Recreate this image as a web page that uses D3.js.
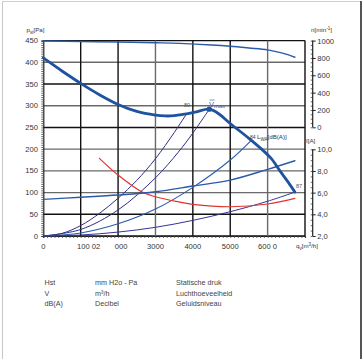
<!DOCTYPE html>
<html><head><meta charset="utf-8">
<script src="https://cdn.jsdelivr.net/npm/d3@7"></script>
<style>
html,body{margin:0;padding:0;background:#fff;}
svg{display:block;}
text{font-family:"Liberation Sans",Arial,sans-serif;}
</style></head>
<body>
<script>
// ---------- data ----------
const xTicks = [0,1000,2000,3000,4000,5000,6000];
const xTickLabels = ["0","100 02","000","3000","4000","5000","600 0"];
const yTicks = [0,50,100,150,200,250,300,350,400,450];
const rpmTicks = [0,200,400,600,800,1000];
const ampTicks = [2,4,6,8,10];
const ampTickLabels = ["2,0","4,0","6,0","8,0","10,0"];

// fan curve: static pressure (Pa) vs flow (m3/h)
const fanQ  = [0,500,1000,1500,2000,2500,3000,3250,3500,3830,4100,4440,4700,5000,5500,5840,6100,6330,6550,6730];
const fanPa = [410,380,351.5,325.5,303,287,278.5,276.5,277,281,286,292,281,259,225,200,178,150,124,101];
// speed (rpm)
const rpmQ  = [0,1000,2000,3000,3650,4500,5000,5500,6000,6400,6730];
const rpm   = [995,990,983,975,968,950,935,915,893,855,808];
// current (A)
const ampQ  = [0,1000,2000,3000,4000,5000,6000,6730];
const amp   = [5.38,5.57,5.78,6.08,6.61,7.16,8.15,8.94];
// red curve (read against current axis)
const redQ  = [1500,2000,2630,3000,3650,4000,5000,6000,6730];
const redV  = [9.16,7.62,6.08,5.62,5.13,4.92,4.70,4.95,5.47];
// system curves (Pa) ending at sound-level points
const sysA_Q  = [0,500,1000,1500,2000,2500,3000,3500,3830];
const sysA_Pa = [0,6,24,52,87,128,178,238,281];
const sysB_Q  = [0,1000,2000,3000,3610,4000,4440];
const sysB_Pa = [0,15,60,134,193,237,292];
const sysC_Q  = [0,1000,2000,3000,4000,5000,5570];
const sysC_Pa = [0,7,28,62,112,175,221];
const sysD_Q  = [0,1000,2000,3000,4000,5000,6000,6730];
const sysD_Pa = [0,2.3,9,20,36,56,80,101];
const peakQ = 4440, peakPa = 292;

// ---------- layout ----------
const W=364,H=359;
const svg=d3.select("body").append("svg").attr("width",W).attr("height",H);
const x=d3.scaleLinear().domain([0,7000]).range([43.3,305]);
const y=d3.scaleLinear().domain([0,450]).range([236,40.6]);
const yR=d3.scaleLinear().domain([0,1000]).range([127.3,40.6]);
const yI=d3.scaleLinear().domain([2,10]).range([236,149.3]);

// frame
svg.append("line").attr("x1",2.5).attr("x2",2.5).attr("y1",1).attr("y2",H).attr("stroke","#c8c8c8").attr("stroke-width",1);
svg.append("line").attr("x1",2).attr("x2",361).attr("y1",1.5).attr("y2",1.5).attr("stroke","#d0d0d0").attr("stroke-width",1);
svg.append("line").attr("x1",361).attr("x2",361).attr("y1",1).attr("y2",H).attr("stroke","#555").attr("stroke-width",2);

// grid
const grayY=new Set([100,150,200,300,400]);
const g=svg.append("g");
yTicks.forEach(v=>{
  g.append("line").attr("x1",x(0)).attr("x2",x(7000)).attr("y1",y(v)).attr("y2",y(v))
   .attr("stroke",grayY.has(v)?"#6a6a6a":"#111").attr("stroke-width",1.4);
});
const grayX=new Set([3000,6000]);
[1000,2000,3000,4000,5000,6000].forEach(v=>{
  g.append("line").attr("x1",x(v)).attr("x2",x(v)).attr("y1",y(0)).attr("y2",y(450))
   .attr("stroke",grayX.has(v)?"#6a6a6a":"#111").attr("stroke-width",1.4);
});
g.append("line").attr("x1",x(7000)).attr("x2",x(7000)).attr("y1",y(0)).attr("y2",y(450)).attr("stroke","#111").attr("stroke-width",1.4);

// left axis
const la=svg.append("g").attr("transform",`translate(${x(0)},0)`);
la.call(d3.axisLeft(y).tickValues(d3.range(0,451,5)).tickSize(2).tickFormat(""));
la.select(".domain").attr("stroke","#222").attr("stroke-width",1.2);
la.selectAll(".tick line").attr("stroke","#444").attr("stroke-width",0.8);
yTicks.forEach(v=>{
  svg.append("text").attr("x",38).attr("y",y(v)+2.6).attr("text-anchor","end")
   .attr("font-size",7.6).attr("fill","#333").text(v);
});
// bottom axis
const ba=svg.append("g").attr("transform",`translate(0,${y(0)})`);
ba.call(d3.axisBottom(x).tickValues(d3.range(0,7001,100)).tickSize(2).tickFormat(""));
ba.select(".domain").attr("stroke","#222").attr("stroke-width",1.2);
ba.selectAll(".tick line").attr("stroke","#444").attr("stroke-width",0.8);
const xdx=[0,8,3,0,0,0,0];
xTicks.forEach((v,i)=>{
  svg.append("text").attr("x",x(v)+xdx[i]).attr("y",248.5).attr("text-anchor","middle")
   .attr("font-size",7.6).attr("fill","#333").text(xTickLabels[i]);
});
// axis titles
const t1=svg.append("text").attr("x",26.5).attr("y",32).attr("font-size",6.2).attr("fill","#333");
t1.append("tspan").text("p");
t1.append("tspan").attr("font-size",4.5).attr("dy",1.5).text("st");
t1.append("tspan").attr("dy",-1.5).text("[Pa]");
const t2=svg.append("text").attr("x",311).attr("y",32).attr("font-size",6.2).attr("fill","#333");
t2.append("tspan").text("n[min");
t2.append("tspan").attr("font-size",4.5).attr("dy",-2).text("-1");
t2.append("tspan").attr("dy",2).text("]");
svg.append("text").attr("x",306).attr("y",143).attr("font-size",6.2).attr("fill","#333").text("I[A]");
const t4=svg.append("text").attr("x",296).attr("y",248).attr("font-size",6.2).attr("fill","#333");
t4.append("tspan").text("q");
t4.append("tspan").attr("font-size",4.5).attr("dy",1.5).text("v");
t4.append("tspan").attr("dy",-1.5).text("[m");
t4.append("tspan").attr("font-size",4.5).attr("dy",-2).text("3");
t4.append("tspan").attr("dy",2).text("/h]");

// right axes
const axX=312.7;
function rightAxis(scale,minorStep,lo,hi,ticks,labels){
  const a=svg.append("g").attr("transform",`translate(${axX},0)`);
  a.call(d3.axisLeft(scale).tickValues(d3.range(lo,hi+1e-9,minorStep)).tickSize(2).tickFormat(""));
  a.select(".domain").remove();
  a.selectAll(".tick line").attr("stroke","#444").attr("stroke-width",0.8);
  const b=svg.append("g").attr("transform",`translate(${axX},0)`);
  b.call(d3.axisRight(scale).tickValues(ticks).tickSize(3).tickPadding(1.5).tickFormat((d,i)=>labels[i]));
  b.select(".domain").attr("d",`M0,${scale(lo)}V${scale(hi)}`).attr("stroke","#222").attr("stroke-width",1.2);
  b.selectAll(".tick line").attr("stroke","#222").attr("stroke-width",1);
  b.selectAll(".tick text").attr("font-size",7.6).attr("fill","#333").attr("font-family","Liberation Sans, Arial, sans-serif");
}
rightAxis(yR,50,0,1000,rpmTicks,rpmTicks.map(String));
rightAxis(yI,0.5,2,10,ampTicks,ampTickLabels);

// curves
const line=d3.line().curve(d3.curveCatmullRom.alpha(0.5));
function draw(qs,vs,sc,color,w){
  svg.append("path").attr("d",line(qs.map((q,i)=>[x(q),sc(vs[i])])))
   .attr("fill","none").attr("stroke",color).attr("stroke-width",w).attr("stroke-linecap","round");
}
draw(sysA_Q,sysA_Pa,y,"#2e2f86",1);
draw(sysB_Q,sysB_Pa,y,"#2e2f86",1);
draw(sysC_Q,sysC_Pa,y,"#2a5bb0",1.1);
draw(sysD_Q,sysD_Pa,y,"#34339a",1);
draw(redQ,redV,yI,"#e0352e",1.2);
draw(ampQ,amp,yI,"#2a5aa8",1.4);
draw(rpmQ,rpm,yR,"#2a5aa8",1.4);
draw(fanQ,fanPa,y,"#1f53a0",2.8);
svg.append("circle").attr("cx",x(peakQ)).attr("cy",y(peakPa)).attr("r",2.6).attr("fill","#1f53a0");

// labels on curve
svg.append("text").attr("x",184).attr("y",107).attr("font-size",5.5).attr("fill","#555").text("80");
const vm=svg.append("text").attr("x",209).attr("y",107).attr("font-size",7.5).attr("fill","#3a6ab5");
vm.append("tspan").text("V");
vm.append("tspan").attr("font-size",6).attr("dy",0.5).text("max");
svg.append("line").attr("x1",209.5).attr("x2",214.5).attr("y1",100).attr("y2",100).attr("stroke","#3a6ab5").attr("stroke-width",0.7);
const lw=svg.append("text").attr("x",250).attr("y",139).attr("font-size",6.2).attr("fill","#333");
lw.append("tspan").attr("font-size",5).text("84 ");
lw.append("tspan").text("L");
lw.append("tspan").attr("font-size",4.5).attr("dy",1.5).text("WA");
lw.append("tspan").attr("dy",-1.5).text("[dB(A)]");
svg.append("text").attr("x",296).attr("y",188).attr("font-size",5.5).attr("fill","#555").text("87");

// legend table
const rowsA=["Hst","V","dB(A)"];
const rowsB=["mm H2o - Pa","m³/h","Decibel"];
const rowsC=["Statische druk","Luchthoeveelheid","Geluidsniveau"];
const rowY=[285,296,306];
rowY.forEach((yy,i)=>{
  [[44.5,rowsA],[95,rowsB],[176,rowsC]].forEach(([xx,arr])=>{
    svg.append("text").attr("x",xx).attr("y",yy).attr("font-family","DejaVu Sans").attr("font-size",7.2).attr("fill","#444").text(arr[i]);
  });
});
</script>
</body></html>
